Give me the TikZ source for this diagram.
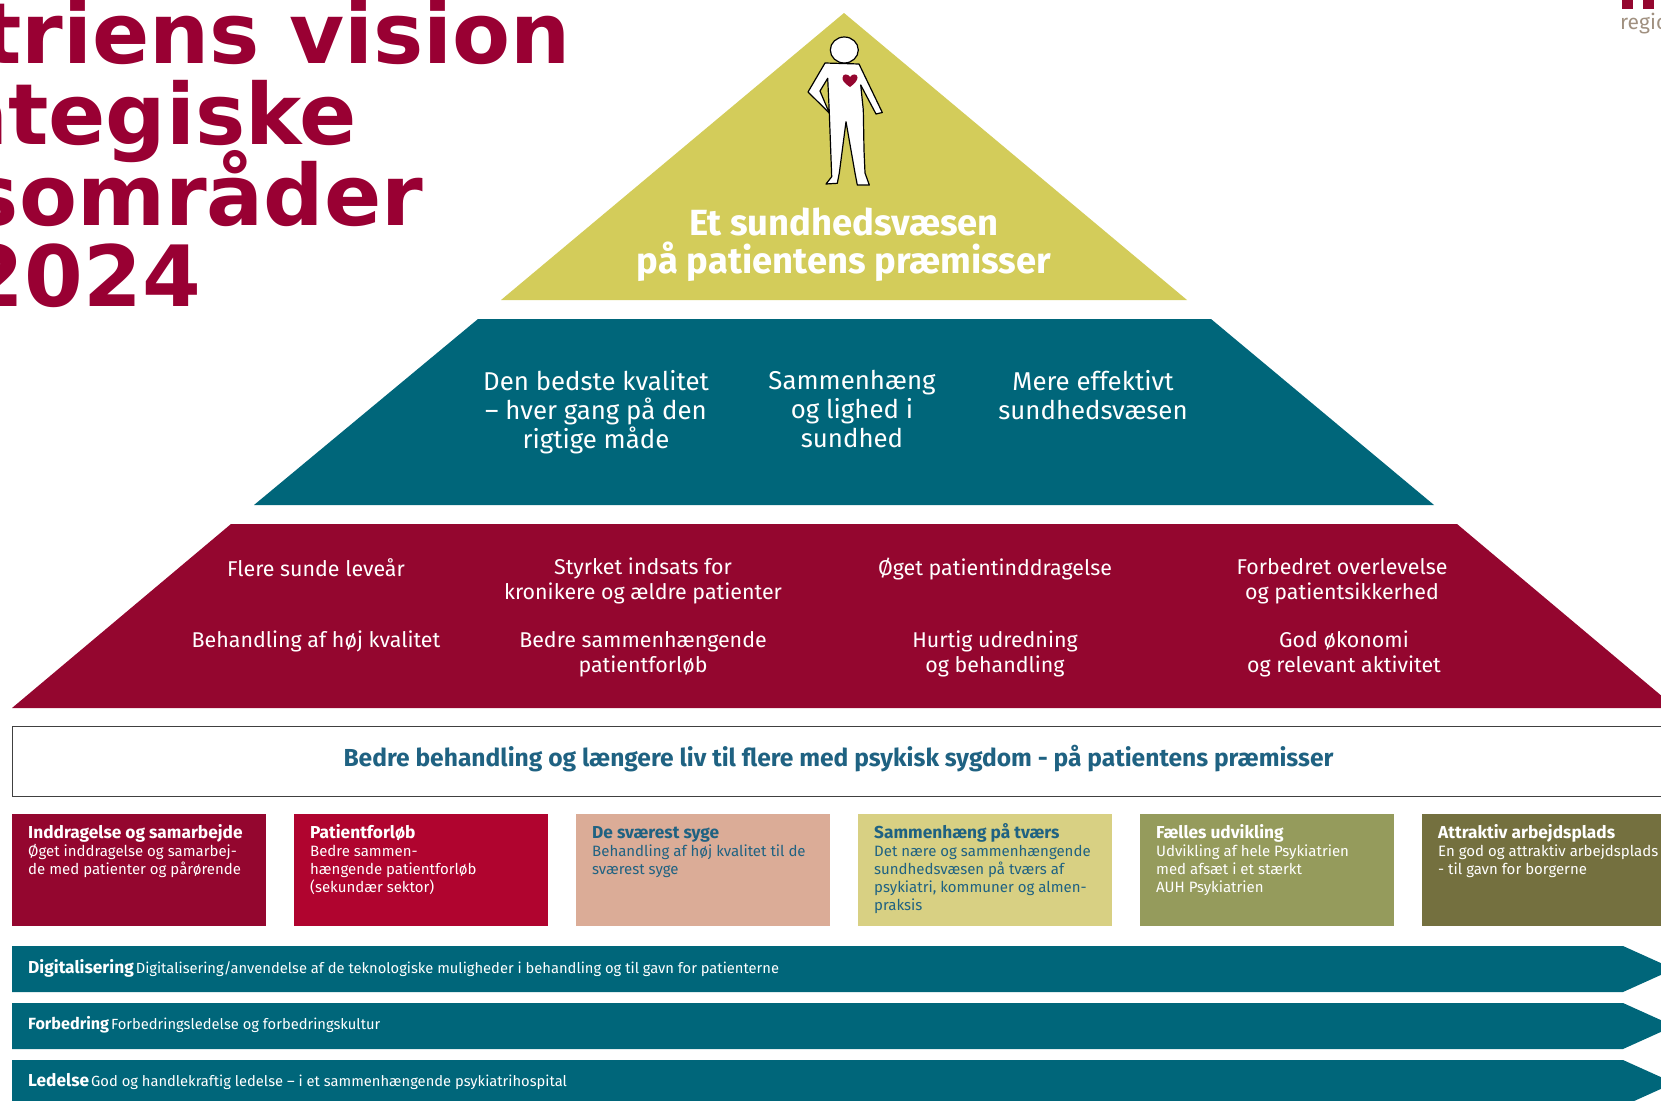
\documentclass[tikz,border=0pt]{standalone}
\usepackage{fontspec}
\setmainfont{Fira Sans}
\newfontfamily\titlefont{DejaVu Sans}
\definecolor{crimson}{HTML}{94062F}
\definecolor{headred}{HTML}{990033}
\definecolor{lakered}{HTML}{B0042F}
\definecolor{petrol}{HTML}{00667A}
\definecolor{mustard}{HTML}{D3CC5A}
\definecolor{inkblue}{HTML}{1F6282}
\definecolor{salmon}{HTML}{DBAC97}
\definecolor{straw}{HTML}{D8D083}
\definecolor{moss}{HTML}{959B5C}
\definecolor{olivedark}{HTML}{74703F}
\definecolor{regiongrey}{HTML}{A09080}
\newcommand{\tilehead}[1]{{\fontsize{17.3}{18}\selectfont\bfseries\rule{0pt}{15pt}#1}}
\newcommand{\barhead}[1]{{\fontsize{17.3}{18}\selectfont\bfseries #1}\hspace{2pt}}
\tikzset{
  headline/.style={font=\titlefont\fontsize{84.5}{85}\selectfont\bfseries,text=headred,anchor=base east,inner sep=0pt},
  peak/.style={font=\fontsize{36.4}{38}\selectfont\bfseries,text=white,align=center,inner sep=0pt},
  midtext/.style={font=\fontsize{25.8}{29}\selectfont,text=white,align=center,anchor=north,inner sep=0pt},
  lowtext/.style={font=\fontsize{21.4}{25}\selectfont,text=white,align=center,anchor=north,inner sep=0pt},
  tilebox/.style={anchor=north west,minimum width=254pt,minimum height=112pt,inner sep=0pt},
  tiletext/.style={anchor=north west,align=left,inner sep=0pt,font=\fontsize{15}{18}\selectfont},
  bartext/.style={anchor=base west,inner sep=0pt,text=white,font=\fontsize{14.72}{18}\selectfont},
}
\begin{document}
\begin{tikzpicture}[x=1pt,y=-1pt]
\useasboundingbox (0,0) rectangle (1661,1100);
% heading, cut by the page
\node[headline] (lineone) at (571,63) {triens vision};
\node[headline] (linetwo) at (357,144) {ategiske};
\node[headline] (linethree) at (423.5,225) {sområder};
\node[headline] (linefour) at (201,306) {2024};
% logo corner
\fill[crimson] (1622,0) rectangle (1633,9);
\fill[crimson] (1643,0) rectangle (1654,9);
\node[font=\fontsize{21}{21}\selectfont,text=regiongrey,anchor=base west,inner sep=0pt] (regio) at (1620,29) {regio};
% pyramid
\fill[mustard] (844,13) -- (1187,300) -- (501,300) -- cycle;
\fill[petrol] (478,319) -- (1211,319) -- (1434,505) -- (254,505) -- cycle;
\fill[crimson] (231,524) -- (1457,524) -- (1676,708) -- (12,708) -- cycle;
% person
\draw[fill=white,line width=1.2pt] (844.3,50) ellipse [x radius=14,y radius=13];
\draw[fill=white,line width=1.2pt,line join=round] (825,63) -- (859,64) -- (882.3,112.5) -- (876,114) -- (860.7,85)
 -- (863.3,110) -- (864,150) -- (865,173) -- (869.3,185) -- (857.3,185) -- (855,173) -- (846,121.7)
 -- (839.3,173) -- (837.3,183.3) -- (826,184) -- (831.7,176.7) -- (829.3,113) -- (808,92) -- (825,63) -- cycle;
\fill[mustard] (827.7,78.3) -- (820,91) -- (829,111) -- cycle;
\draw[line width=1.2pt,line join=round] (827.7,78.3) -- (820,91) -- (829.3,113) -- cycle;
\fill[crimson] (850,87) .. controls (844,83) and (842,80) .. (842.5,77.5)
 .. controls (843,73.5) and (848,73.5) .. (850,77)
 .. controls (852,73.5) and (857.5,73.5) .. (857.5,77.5) .. controls (857.5,80) and (855,83.5) .. (850,87) -- cycle;
\node[peak] (peaklabel) at (844,245) {Et sundhedsvæsen\\på patientens præmisser};
% middle level
\node[midtext] (kvalitet) at (596,370) {Den bedste kvalitet\\– hver gang på den\\rigtige måde};
\node[midtext] (lighed) at (852,370) {Sammenhæng\\og lighed i\\sundhed};
\node[midtext] (effektiv) at (1093,370) {Mere effektivt\\sundhedsvæsen};
% lower level
\node[lowtext] (leveaar) at (316,558) {Flere sunde leveår};
\node[lowtext] (kronikere) at (643,558) {Styrket indsats for\\kronikere og ældre patienter};
\node[lowtext] (inddragelse) at (995,558) {Øget patientinddragelse};
\node[lowtext] (overlevelse) at (1342,558) {Forbedret overlevelse\\og patientsikkerhed};
\node[lowtext] (hojkvalitet) at (316,631) {Behandling af høj kvalitet};
\node[lowtext] (forlob) at (643,631) {Bedre sammenhængende\\patientforløb};
\node[lowtext] (udredning) at (995,631) {Hurtig udredning\\og behandling};
\node[lowtext] (okonomi) at (1344,631) {God økonomi\\og relevant aktivitet};
% mission band
\draw[fill=white,draw=black!75,line width=1pt] (12,726) rectangle (1680,796);
\node[font=\fontsize{24.6}{25}\selectfont\bfseries,text=inkblue,inner sep=0pt] (mission) at (838.5,759) {Bedre behandling og længere liv til flere med psykisk sygdom - på patientens præmisser};
% tiles
\node[tilebox,fill=crimson] (tileone) at (12,814) {};
\node[tilebox,fill=lakered] (tiletwo) at (294,814) {};
\node[tilebox,fill=salmon] (tilethree) at (576,814) {};
\node[tilebox,fill=straw] (tilefour) at (858,814) {};
\node[tilebox,fill=moss] (tilefive) at (1140,814) {};
\node[tilebox,fill=olivedark] (tilesix) at (1422,814) {};
\node[tiletext,text=white] at (28,823.5) (textone) {\tilehead{Inddragelse og samarbejde}\\Øget inddragelse og  samarbej-\\de med patienter og pårørende};
\node[tiletext,text=white] at (310,823.5) (texttwo) {\tilehead{Patientforløb}\\Bedre sammen-\\hængende patientforløb\\(sekundær sektor)};
\node[tiletext,text=inkblue] at (592,823.5) (textthree) {\tilehead{De sværest syge}\\Behandling af høj kvalitet til de\\sværest syge};
\node[tiletext,text=inkblue] at (874,823.5) (textfour) {\tilehead{Sammenhæng på tværs}\\Det nære og sammenhængende\\sundhedsvæsen på tværs af\\psykiatri, kommuner og almen-\\praksis};
\node[tiletext,text=white] at (1156,823.5) (textfive) {\tilehead{Fælles udvikling}\\Udvikling af hele Psykiatrien\\med afsæt i et stærkt\\AUH Psykiatrien};
\node[tiletext,text=white] at (1438,823.5) (textsix) {\tilehead{Attraktiv arbejdsplads}\\En god og attraktiv arbejdsplads\\- til gavn for borgerne};
% bars
\fill[petrol] (12,946) -- (1623,946) -- (1674,969) -- (1623,992) -- (12,992) -- cycle;
\fill[petrol] (12,1003) -- (1623,1003) -- (1674,1026) -- (1623,1049) -- (12,1049) -- cycle;
\fill[petrol] (12,1060) -- (1623,1060) -- (1674,1083) -- (1623,1106) -- (12,1106) -- cycle;
\node[bartext] (bardigital) at (28,973) {\barhead{Digitalisering}Digitalisering/anvendelse af de teknologiske muligheder i behandling og til gavn for patienterne};
\node[bartext] (barforbedring) at (28,1029) {{\fontsize{16.2}{18}\selectfont\bfseries Forbedring}\hspace{2pt}Forbedringsledelse og forbedringskultur};
\node[bartext] (barledelse) at (28,1086) {\barhead{Ledelse}God og handlekraftig ledelse – i et sammenhængende psykiatrihospital};
\end{tikzpicture}
\end{document}
